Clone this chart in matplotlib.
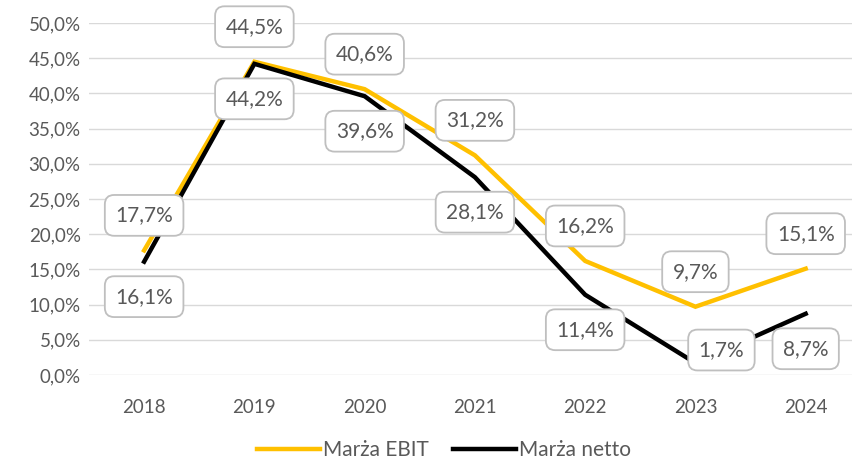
import matplotlib
matplotlib.use("Agg")
import matplotlib.pyplot as plt
from matplotlib.ticker import FuncFormatter

plt.rcParams['font.family'] = ['Lato', 'DejaVu Sans']

years = ['2018', '2019', '2020', '2021', '2022', '2023', '2024']
ebit = [17.7, 44.5, 40.6, 31.2, 16.2, 9.7, 15.1]
netto = [16.1, 44.2, 39.6, 28.1, 11.4, 1.7, 8.7]
series_names = ['Marża EBIT', 'Marża netto']

fig = plt.figure(figsize=(8.54, 4.67), dpi=100)
ax = fig.add_axes([89/854, 1-375/467, (852-89)/854, (375-23)/467])

x = list(range(len(years)))
ax.plot(x, ebit, color='#FFC000', lw=3.2, label=series_names[0], solid_joinstyle='miter', zorder=3)
ax.plot(x, netto, color='black', lw=3.2, label=series_names[1], solid_joinstyle='miter', zorder=4)

ax.set_xlim(-0.5, 6.42)
ax.set_ylim(0, 50)
ax.set_yticks(range(0, 51, 5))
ax.yaxis.set_major_formatter(FuncFormatter(lambda v, p: f"{v:.1f}%".replace('.', ',')))
ax.set_xticks(x)
ax.set_xticklabels(years)
ax.grid(axis='y', color='#D9D9D9', lw=1)
ax.set_axisbelow(True)
for s in ax.spines.values():
    s.set_visible(False)
ax.tick_params(axis='both', length=0, labelsize=13.5, labelcolor='#595959')
ax.tick_params(axis='x', pad=17)
ax.tick_params(axis='y', pad=6)

bbox = dict(boxstyle='round,pad=0.5,rounding_size=0.45', fc='white', ec='#BFBFBF', lw=1.3)

def lab(i, v, dx, dy):
    ax.annotate(f"{v:.1f}%".replace('.', ','), (i, v), xytext=(dx*0.72, dy*0.72),
                textcoords='offset points', ha='center', va='center',
                fontsize=15, color='#595959', bbox=bbox, zorder=6)

for i, v in enumerate(ebit):
    lab(i, v, 0, 35)
for i, v in enumerate(netto):
    if i == 5:
        lab(i, v, 26, 13)
    else:
        lab(i, v, 0, -35)

leg = fig.legend(loc='lower center', bbox_to_anchor=(0.52, -0.025), ncol=2, frameon=False,
                 fontsize=15, handlelength=3.0, columnspacing=1.2, handletextpad=0.15)
for t in leg.get_texts():
    t.set_color('#595959')

fig.savefig('out.png', dpi=100)
